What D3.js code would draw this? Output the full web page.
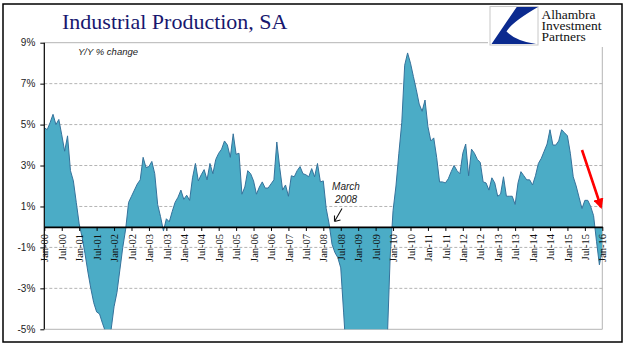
<!DOCTYPE html>
<html>
<head>
  <meta charset="utf-8">
  <script src="https://d3js.org/d3.v7.min.js"></script>
  <style>
    body { margin: 0; background: #fff; }
    .grid line { stroke: #b4b4b4; stroke-width: 1; }
    .ylab text { font-family: "Liberation Sans", sans-serif; font-size: 10px; fill: #222; }
    .xlab text { font-family: "Liberation Serif", serif; font-size: 10.5px; fill: #111; }
  </style>
</head>
<body>
<script>
  // Y/Y % change, monthly, Jan-00 .. Jan-16 (values below -5% are cut off by the plot)
  var monthIndex = d3.range(0, 193);
  var yoy = [
    4.85, 4.75, 5.1, 5.5, 5.0, 5.25, 4.5, 3.7, 4.45, 2.75, 2.25, 1.2,
    0.15, -0.5, -1.3, -2.2, -3.0, -3.7, -4.15, -4.25, -4.7, -5.1, -5.4, -5.0,
    -3.9, -3.2, -2.1, -1.0, -0.1, 1.2, 1.5, 1.8, 2.1, 2.3, 3.4, 2.9,
    2.95, 3.2, 2.6, 1.1, 0.5, -0.2, 0.4, 0.25, 0.75, 1.2, 1.45, 1.8,
    1.35, 1.55, 1.3, 2.4, 3.1, 2.25, 2.55, 2.8, 2.3, 3.1, 2.6, 3.3,
    3.6, 3.8, 4.2, 4.0, 3.4, 4.55, 3.55, 3.6, 1.6, 1.95, 2.75, 2.6,
    2.25, 1.6, 1.95, 2.2, 1.9, 1.9, 2.1, 2.3, 4.15, 2.9, 1.8, 2.05,
    1.5, 2.5, 2.45, 2.75, 2.95, 2.6, 2.55, 2.45, 2.85, 2.45, 3.1, 2.2,
    2.25, 0.9, 0.15, -0.85, -1.25, -1.5, -2.0, -4.2, -6.5, -6.0, -7.5, -9.3,
    -11.0, -12.5, -13.5, -14.2, -14.8, -15.4, -13.7, -12.0, -10.4, -8.3, -5.6, -1.5,
    0.8, 2.0, 3.6, 5.1, 7.9, 8.5, 8.0, 7.35, 6.7, 6.0, 5.65, 6.2,
    4.9, 4.2, 4.35, 3.4, 2.2, 2.2, 2.15, 2.35, 2.7, 3.0, 2.75, 2.6,
    3.6, 4.05, 2.5, 3.8, 3.6, 3.3, 3.15, 2.2, 2.15, 1.8, 2.4, 2.15,
    1.5, 1.6, 2.45, 1.5, 1.5, 1.5, 1.1, 2.15, 2.7, 2.5, 2.3, 2.3,
    2.05, 2.5, 3.1, 3.35, 3.7, 4.05, 4.75, 4.0, 4.0, 4.2, 4.75, 4.6,
    4.45, 3.6, 2.45, 2.0, 1.45, 0.9, 1.3, 1.3, 1.0, 0.55, -0.7, -1.85,
    -1.1
  ];
  var xTickIndex = d3.range(0, 193, 6);
  var xTickLabels = [
    "Jan-00","Jul-00","Jan-01","Jul-01","Jan-02","Jul-02","Jan-03","Jul-03",
    "Jan-04","Jul-04","Jan-05","Jul-05","Jan-06","Jul-06","Jan-07","Jul-07",
    "Jan-08","Jul-08","Jan-09","Jul-09","Jan-10","Jul-10","Jan-11","Jul-11",
    "Jan-12","Jul-12","Jan-13","Jul-13","Jan-14","Jul-14","Jan-15","Jul-15","Jan-16"
  ];
  var yTicks = [9, 7, 5, 3, 1, -1, -3, -5];
  var logoLines = ["Alhambra", "Investment", "Partners"];

  var W = 641, H = 358;
  var plotL = 44.3, plotR = 602.3, plotT = 42.7, plotB = 329.3;

  var svg = d3.select("body").append("svg")
      .attr("width", W).attr("height", H);

  var x = d3.scaleLinear().domain([0, 192]).range([plotL, plotR]);
  var y = d3.scaleLinear().domain([-5, 9]).range([plotB, plotT]);

  // outer frame
  svg.append("rect")
      .attr("x", 3).attr("y", 4).attr("width", 619).attr("height", 338)
      .attr("fill", "#fff").attr("stroke", "#000").attr("stroke-width", 1.5);

  // title
  svg.append("text")
      .attr("x", 62).attr("y", 29)
      .style("font-family", "Liberation Serif, serif")
      .style("font-size", "22px")
      .style("fill", "#17176e")
      .text("Industrial Production, SA");

  // gridlines
  var grid = svg.append("g").attr("class", "grid");
  grid.selectAll("line").data(yTicks).enter().append("line")
      .attr("x1", plotL).attr("x2", plotR)
      .attr("y1", function(d) { return y(d); })
      .attr("y2", function(d) { return y(d); })
      .attr("stroke-dasharray", function(d) { return (d == 9 || d == -5) ? null : "3,2"; });
  grid.append("line")
      .attr("x1", plotR).attr("x2", plotR).attr("y1", plotT).attr("y2", plotB);

  // area, clipped to the plot
  svg.append("clipPath").attr("id", "plotclip")
    .append("rect")
      .attr("x", plotL).attr("y", plotT)
      .attr("width", plotR - plotL).attr("height", plotB - plotT);

  var area = d3.area()
      .x(function(d) { return x(d); })
      .y0(y(0))
      .y1(function(d) { return y(yoy[d]); });
  var line = d3.line()
      .x(function(d) { return x(d); })
      .y(function(d) { return y(yoy[d]); });

  var plot = svg.append("g").attr("clip-path", "url(#plotclip)");
  plot.append("path").datum(monthIndex)
      .attr("d", area)
      .attr("fill", "#4bacc6");
  plot.append("path").datum(monthIndex)
      .attr("d", line)
      .attr("fill", "none")
      .attr("stroke", "#35729b")
      .attr("stroke-width", 1);

  // y axis
  var yAxis = d3.axisLeft(y)
      .tickValues(yTicks)
      .tickSize(4)
      .tickPadding(5)
      .tickFormat(function(d) { return d + "%"; });
  var gy = svg.append("g").attr("class", "ylab")
      .attr("transform", "translate(" + plotL + ",0)")
      .call(yAxis);
  gy.select(".domain").remove();
  gy.selectAll(".tick line").attr("stroke", "#000");
  gy.selectAll(".tick text").style("font-family", "Liberation Sans, sans-serif");
  svg.append("line")
      .attr("x1", plotL).attr("x2", plotL).attr("y1", plotT).attr("y2", plotB)
      .attr("stroke", "#000").attr("stroke-width", 1.2);

  // x axis on the zero line
  var xAxis = d3.axisBottom(x)
      .tickValues(xTickIndex)
      .tickSize(4)
      .tickSizeOuter(0)
      .tickFormat(function(d, i) { return xTickLabels[i]; });
  var gx = svg.append("g").attr("class", "xlab")
      .attr("transform", "translate(0," + y(0) + ")")
      .call(xAxis);
  gx.select(".domain").attr("stroke", "#000").attr("stroke-width", 1.8);
  gx.selectAll(".tick line").attr("stroke", "#000");
  gx.selectAll(".tick text")
      .attr("transform", "rotate(-90)")
      .attr("x", -7).attr("y", 0).attr("dy", "0.35em")
      .style("text-anchor", "end")
      .style("font-family", "Liberation Serif, serif");

  // notes
  svg.append("text")
      .attr("x", 78).attr("y", 55)
      .style("font-family", "Liberation Sans, sans-serif")
      .style("font-style", "italic")
      .style("font-size", "9.5px")
      .style("fill", "#222")
      .text("Y/Y % change");

  var note = svg.append("text")
      .style("font-family", "Liberation Sans, sans-serif")
      .style("font-style", "italic")
      .style("font-size", "10px")
      .style("fill", "#222")
      .style("text-anchor", "middle");
  note.append("tspan").attr("x", 346).attr("y", 190).text("March");
  note.append("tspan").attr("x", 346).attr("y", 203).text("2008");

  // black pointer to March 2008
  svg.append("path")
      .attr("d", "M342,208.5 L334.5,221.5 M334.5,221.5 L334.5,215.5 M334.5,221.5 L340.5,220")
      .attr("fill", "none").attr("stroke", "#111").attr("stroke-width", 1.1);

  // red arrow
  svg.append("defs").append("marker")
      .attr("id", "redhead")
      .attr("viewBox", "0 0 10 10")
      .attr("refX", 8).attr("refY", 5)
      .attr("markerWidth", 4).attr("markerHeight", 4)
      .attr("orient", "auto")
    .append("path").attr("d", "M0,0 L10,5 L0,10 Z").attr("fill", "#f00");
  svg.append("line")
      .attr("x1", 582).attr("y1", 150).attr("x2", 601).attr("y2", 207)
      .attr("stroke", "#f00").attr("stroke-width", 2.6)
      .attr("marker-end", "url(#redhead)");

  // logo
  var logo = svg.append("g");
  logo.append("rect")
      .attr("x", 488).attr("y", 5).attr("width", 128).attr("height", 42)
      .attr("fill", "#fff");
  logo.append("rect")
      .attr("x", 490).attr("y", 6.5).attr("width", 48).attr("height", 38.5)
      .attr("fill", "#fff").attr("stroke", "#c8c8c8").attr("stroke-width", 1);
  logo.append("path")
      .attr("d", "M516.7,7 L538,7 Q512,22 506.5,31.5 Q516,41 536,44 L491.5,44 Z")
      .attr("fill", "#0b2a8f");
  logo.selectAll("text.logo").data(logoLines).enter().append("text")
      .attr("class", "logo")
      .attr("x", 541.5)
      .attr("y", function(d, i) { return 18.5 + i * 11.2; })
      .style("font-family", "Liberation Serif, serif")
      .style("font-size", "13.5px")
      .style("fill", "#111")
      .text(function(d) { return d; });
</script>
</body>
</html>
